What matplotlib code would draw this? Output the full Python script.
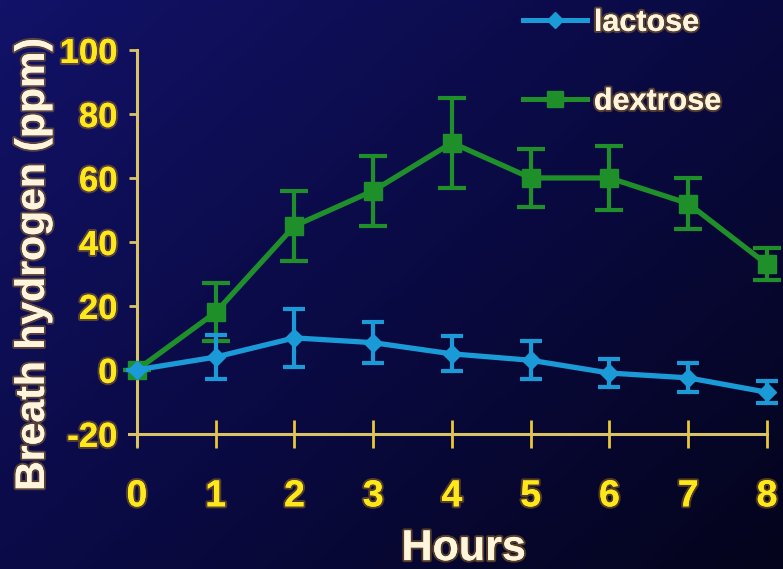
import numpy as np
import matplotlib.pyplot as plt
import matplotlib.patheffects as pe
from matplotlib.colors import LinearSegmentedColormap

plt.rcParams['axes.unicode_minus'] = False

hours = [0, 1, 2, 3, 4, 5, 6, 7, 8]
lactose = [0, 4, 10, 8.5, 5, 3, -1, -2.5, -7]
lactose_err = [0, 7, 9, 6.5, 5.5, 6, 4.5, 4.5, 3.5]
dextrose = [0, 18, 45, 56, 71, 60, 60, 52, 33]
dextrose_err = [0, 9, 11, 11, 14, 9, 10, 8, 5]

y_ticks = [-20, 0, 20, 40, 60, 80, 100]

BLUE = '#1a9ad6'
GREEN = '#1f8f2a'
AXIS = '#d8c466'
TICK_TXT = '#ffe81a'
LABEL_TXT = '#fff4dc'

glow = [pe.withStroke(linewidth=3, foreground='#b08020', alpha=0.45), pe.Normal()]
font = ['Liberation Sans', 'DejaVu Sans']

fig = plt.figure(figsize=(7.83, 5.69), dpi=100)

# dark navy backdrop, a bit lighter towards the upper left
bg = fig.add_axes([0, 0, 1, 1], zorder=-5)
xx, yy = np.meshgrid(np.linspace(0, 1, 200), np.linspace(0, 1, 150))
shade = 0.55 * xx + 0.45 * yy
cmap = LinearSegmentedColormap.from_list('navy', ['#121268', '#0a0a44', '#04041c'])
bg.imshow(shade, cmap=cmap, aspect='auto', extent=[0, 1, 0, 1], origin='upper')
bg.axis('off')

ax = fig.add_axes([0.1648, 0.2179, 0.8148, 0.6942])
ax.set_facecolor('none')

d_line = ax.errorbar(hours, dextrose, yerr=dextrose_err, color=GREEN, lw=3.8,
                     elinewidth=3, capsize=10, capthick=3, marker='s', ms=13, zorder=3)
l_line = ax.errorbar(hours, lactose, yerr=lactose_err, color=BLUE, lw=3.8,
                     elinewidth=3, capsize=8, capthick=3, marker='D', ms=9, zorder=4)
# let the last markers hang over the end of the axis
for container in (d_line, l_line):
    for artist in container.get_children():
        artist.set_clip_on(False)

# legend entries without the error bars
ax.plot([], [], color=BLUE, lw=3.6, marker='D', ms=8, label='lactose')
ax.plot([], [], color=GREEN, lw=3.6, marker='s', ms=12, label='dextrose')

ax.set_xlim(-0.1, 8)
ax.set_ylim(-23.5, 100)
ax.set_xticks(hours)
ax.set_yticks(y_ticks)

for side in ['top', 'right']:
    ax.spines[side].set_visible(False)
ax.spines['left'].set_position(('data', 0))
ax.spines['bottom'].set_position(('data', -20))
for side in ['left', 'bottom']:
    ax.spines[side].set_color(AXIS)
    ax.spines[side].set_linewidth(2.2)

ax.tick_params(axis='y', direction='out', length=6, width=2, color=AXIS, pad=8)
ax.tick_params(axis='x', direction='inout', length=20, width=2, color='#e8c838', pad=22)

for lbl in ax.get_yticklabels():
    lbl.set_family(font)
    lbl.set_fontsize(25)
    lbl.set_fontweight('bold')
    lbl.set_color(TICK_TXT)
    lbl.set_path_effects(glow)
for lbl in ax.get_xticklabels():
    lbl.set_family(font)
    lbl.set_fontsize(27)
    lbl.set_fontweight('bold')
    lbl.set_color(TICK_TXT)
    lbl.set_path_effects(glow)

fig.text(0.042, 0.535, 'Breath hydrogen (ppm)', rotation=90, ha='center', va='center',
         family=font, fontsize=29.5, fontweight='bold', color=LABEL_TXT, path_effects=glow)
fig.text(0.592, 0.035, 'Hours', ha='center', va='center',
         family=font, fontsize=31, fontweight='bold', color=LABEL_TXT, path_effects=glow)

leg = ax.legend(loc='upper left', bbox_to_anchor=(0.648, 1.013), bbox_transform=fig.transFigure,
                frameon=False, borderpad=0, labelspacing=1.6, handlelength=2.1, handletextpad=0.23,
                prop={'family': font, 'size': 22, 'weight': 'bold'})
for t in leg.get_texts():
    t.set_color(LABEL_TXT)
    t.set_path_effects(glow)

fig.savefig('out.png', dpi=100, facecolor='#0b0b40')
